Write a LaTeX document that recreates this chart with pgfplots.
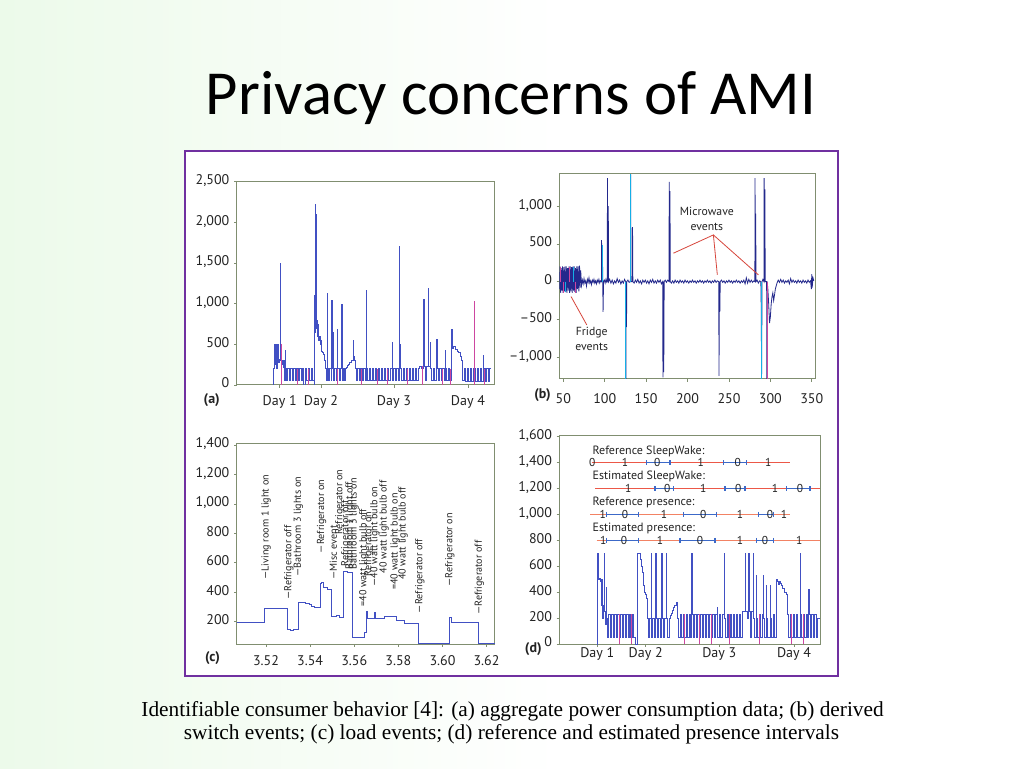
\documentclass[border=0pt]{standalone}
\usepackage{pgfplots}
\pgfplotsset{compat=1.18}
\usepackage{fontspec}
\setmainfont{PT Sans}
\newfontfamily\titlefont{Carlito}
\newfontfamily\capfont{Liberation Serif}
\definecolor{purp}{RGB}{112,48,160}
\definecolor{frm}{RGB}{128,142,112}
\definecolor{ln}{RGB}{65,80,195}
\definecolor{navy}{RGB}{35,40,140}
\definecolor{pinkl}{RGB}{205,70,160}
\definecolor{cyanl}{RGB}{20,175,230}
\definecolor{redl}{RGB}{236,88,72}
\definecolor{orl}{RGB}{242,130,100}
\definecolor{bluel}{RGB}{60,105,200}
\definecolor{annot}{RGB}{215,70,60}
\definecolor{bgg}{RGB}{236,250,234}
\definecolor{txt}{RGB}{35,35,35}
\pgfplotsset{panel/.style={scale only axis, anchor=south west,
  axis line style={frm, line width=0.75pt},
  tick style={frm, line width=0.5pt}, tick align=outside, major tick length=2pt,
  xtick pos=bottom, ytick pos=left, typeset ticklabels with strut,
  ticklabel style={font=\fontsize{10.5}{11}\selectfont, text=txt},
  axis background/.style={fill=white}}}
\newcommand{\cl}[3]{\node[rotate=90, anchor=west, inner sep=0pt, font=\fontsize{7.6}{7.6}\selectfont, text=txt] at (axis cs:#1,#2) {#3};}
\newcommand{\dg}[3]{\node[inner sep=0pt, font=\fontsize{8.6}{9}\selectfont, text=txt] at (axis cs:#1,#2) {#3};}
\begin{document}
\begin{tikzpicture}[x=1pt,y=1pt]
\useasboundingbox (0,0) rectangle (768,576);
\shade[left color=bgg, right color=white] (0,0) rectangle (420,576);
\fill[white] (420,0) rectangle (768,576);
\node[anchor=base, font=\titlefont\fontsize{47}{50}\selectfont, inner sep=0pt] at (383.25,489.75) {Privacy concerns of AMI};
\node[anchor=base, font=\capfont\fontsize{16}{18}\selectfont, inner sep=0pt] at (384.4,39) {Identifiable consumer behavior [4]: (a) aggregate power consumption data; (b) derived};
\node[anchor=base, font=\capfont\fontsize{16}{18}\selectfont, inner sep=0pt] at (383.6,21.75) {switch events; (c) load events; (d) reference and estimated presence intervals};
\draw[purp, line width=1.5pt, fill=white] (138.75,69) rectangle (628.5,462.75);

% ---------------- (a)
\begin{axis}[panel, at={(177.5pt,287.25pt)}, width=193.7pt, height=152.5pt,
  xmin=0, xmax=258.3, ymin=0, ymax=2500,
  xtick={43,84.3,157.3,231.3}, xticklabels={Day 1,Day 2,Day 3,Day 4},
  ytick={0,500,1000,1500,2000,2500}, yticklabels={0,500,{1,000},{1,500},{2,000},{2,500}},
  xticklabel style={yshift=-1.8pt}]
\addplot[const plot, ln, line width=0.5pt] coordinates {
(0,0) (37,200) (37.8,500) (38.4,250) (39,500) (39.6,200) (40.3,300) (41,500) (41.5,280) (42.3,320) (43.2,1500) (43.6,300) (44.5,250) (45.5,300) (46.3,220) (47,300) (47.6,60) (48.2,430) (48.6,200) (49.5,60) (51,200) (52.5,60) (54,200) (55.5,60) (57,200) (58.5,60) (60,200) (61.5,60) (63,200) (64.5,60) (66,200) (67,0) (68.5,200) (70,60) (71.5,200) (73,60) (74.5,200) (76,60) (77.2,0) (77.6,1100) (78.2,650) (78.6,2220) (79,2100) (79.4,900) (79.8,700) (80.3,800) (80.8,600) (81.3,750) (81.8,550) (82.5,600) (83.2,500) (84,550) (85,420) (86,400) (87,380) (88,300) (88.5,200) (89.5,60) (90.2,1130) (90.6,200) (91.5,60) (93,200) (94.5,60) (95,1040) (95.4,200) (96.6,650) (97,60) (98,200) (99.5,60) (100.6,690) (101,200) (102.5,60) (104,200) (105,990) (105.4,60) (106.5,200) (108,60) (109,200) (110,220) (111,240) (112,260) (113,280) (114.5,300) (116.3,550) (116.8,350) (117.5,300) (118.5,200) (119.5,60) (121,200) (122.5,60) (124,200) (125.5,60) (127,200) (128.5,60) (129.3,1160) (129.7,200) (131,60) (132.5,200) (134,60) (135.5,200) (137,60) (138.5,200) (140,60) (141.5,200) (143,60) (144.5,200) (146,60) (147.5,200) (149,60) (150.5,200) (152,60) (153.5,200) (155.3,520) (155.7,60) (157,200) (158.5,60) (160,200) (161.5,60) (162.6,1710) (163,500) (163.5,200) (165,60) (166.5,200) (168,60) (169.5,200) (171,60) (172.5,200) (174,60) (175.5,200) (177,60) (178.5,200) (180,60) (181.5,200) (183,230) (185,200) (187,1050) (187.4,230) (189,60) (190,230) (191.6,1190) (192,230) (193.3,530) (193.7,200) (195,60) (196.5,200) (198,60) (200,560) (200.4,200) (201.5,60) (203,200) (204.5,60) (206,200) (207.5,60) (208.3,430) (208.7,200) (210,60) (211.5,200) (213,60) (215,690) (215.5,450) (217,480) (219,440) (221,420) (222,400) (224,350) (225,300) (226,60) (227.5,200) (229,50) (230.5,200) (232,50) (233.5,200) (235,50) (236.5,200) (237.3,1030) (237.7,200) (239,50) (240.5,200) (242,50) (243.5,200) (245,50) (246.6,370) (247,200) (248.5,50) (250,200) (251.5,50) (253,200) (254.5,200)};
\addplot[ycomb, pinkl, line width=0.5pt] coordinates {(44.8,500) (60.2,200) (72.1,200) (100.2,200) (125.1,200) (140.4,200) (150.2,200) (170.3,200) (185.5,230) (205.3,200) (213.4,200) (237.5,1030) (247.4,200)};
\end{axis}
\node[font=\bfseries\fontsize{10.5}{11}\selectfont, text=txt] at (158.8,276) {(a)};

% ---------------- (b)
\begin{axis}[panel, at={(419.5pt,291.75pt)}, width=191.8pt, height=154.3pt,
  xmin=45.2, xmax=354, ymin=-1290, ymax=1435,
  xtick={50,100,150,200,250,300,350}, xticklabels={50,100,150,200,250,300,350},
  ytick={-1000,-500,0,500,1000}, yticklabels={{\textendash1,000},{\textendash500},0,500,{1,000}},
  xticklabel style={yshift=-5pt}]
\addplot[navy, line width=0.6pt] coordinates {
(45.5,-100) (46,200) (46.8,-150) (47.5,180) (48.3,-120) (49,200) (49.8,-150) (50.5,190) (51.3,-130) (52,200) (52.8,-140) (53.6,200) (54.4,-150) (55.2,180) (56,-120) (56.8,200) (57.6,-150) (58.4,200) (59.2,-130) (60,190) (60.8,-150) (61.6,200) (62.4,-120) (63.2,200) (64,-140) (64.8,180) (65.6,-150) (66.4,200) (67.2,-100) (68,200) (68.8,-130) (69.6,210) (70.4,-80) (71,150) (72,-50) (73,20) (74,-30) (75,40) (76,-20) (77,10) (78,-60) (79,30) (80,-10) (81,50) (82,-20) (83,10) (84,-40) (85,20) (86,-10) (87,30) (88,-20) (89,10) (90,-30) (91,20) (92,-10) (93,30) (94,-20) (95,10) (96,0) (96.2,550) (96.6,0) (97.2,480) (97.6,0) (98,-400) (98.6,0) (99.5,20) (100.5,-20) (101.5,30) (102.5,-10) (103.1,0) (103.3,1370) (103.7,0) (104.3,1000) (104.7,0) (106,30) (107.5,-20) (109,20) (110.5,-30) (112,10) (113.5,-20) (115,40) (116.5,-10) (118,20) (119.5,-30) (121,10) (122.5,-20) (124,30) (125.3,0) (125.6,-1290) (126,0) (126.3,-600) (126.7,0) (128,20) (129.5,-10) (131,0) (131.3,1420) (131.8,0) (133.4,0) (133.6,720) (134,0) (135.5,-20) (137,20) (138.5,-10) (140,30) (141.5,-20) (143,10) (144.5,-30) (146,20) (147.5,-10) (149,20) (150.5,-20) (152,10) (153.5,-30) (155,20) (156.5,-10) (158,30) (159.5,-20) (161,10) (162.5,-20) (164,20) (165.5,-10) (167,20) (168.5,-30) (170,0) (170.3,-1270) (170.8,0) (171.3,-1200) (171.8,0) (173,20) (174.5,-10) (176,20) (177.6,0) (177.9,1320) (178.4,0) (178.8,1200) (179.2,0) (180.5,-20) (182,10) (183.5,-20) (185,20) (186.5,-10) (188,10) (189.5,-20) (191,20) (192.5,-10) (194,10) (195.5,-20) (197,20) (198.5,-10) (200,10) (201.5,-20) (203,10) (204.5,-10) (206,20) (207.5,-10) (209,10) (210.5,-20) (212,10) (213.5,-10) (215,20) (216.5,-10) (218,10) (219.5,-20) (221,10) (222.5,-10) (224,20) (225.5,-10) (227,10) (228.5,-20) (230,10) (231.5,-10) (233,20) (234.5,-10) (236,10) (237.7,0) (238,-1250) (238.5,0) (239,-400) (239.5,0) (241,20) (242.5,-10) (244,10) (245.5,-20) (247,10) (248.5,-10) (250,20) (251.5,-10) (253,10) (254.5,-20) (256,10) (257.5,-10) (259,20) (260.5,-10) (262,10) (263.5,-20) (265,10) (266.5,-10) (268,20) (269.5,-30) (271,50) (272.5,-20) (274,30) (275.5,-10) (277,20) (278.5,-10) (280,10) (281.3,0) (281.5,1370) (282,0) (282.3,900) (282.7,0) (284,20) (285.5,-20) (287,10) (288.5,0) (289,-350) (289.4,-1290) (290,0) (291,30) (292.3,0) (292.5,1370) (293,0) (293.4,1220) (293.8,0) (295.5,0) (295.8,-1290) (296.2,0) (297,-100) (298,-300) (299,-550) (300,-470) (301,-300) (302,-200) (303,-150) (304,-250) (305,-180) (306,-100) (307,-60) (308,-20) (309.5,20) (311,-10) (312.5,30) (314,-10) (315.5,20) (317,-20) (318.5,10) (320,-10) (321.5,20) (323,-30) (324.5,40) (326,-10) (327.5,20) (329,-10) (330.5,10) (332,-20) (333.5,20) (335,-10) (336.5,10) (338,-20) (339.5,20) (341,-10) (342.5,10) (344,-20) (345.5,20) (347,-10) (348.5,10) (349.5,-100) (350,100) (350.5,-80) (351.5,50) (352.5,10)};
\addplot[ycomb, cyanl, line width=0.6pt] coordinates {(125.5,-1290) (131.6,1420) (289.2,-1290) (97.4,480) (47,180) (53,-140) (62,200)};
\addplot[ycomb, pinkl, line width=0.6pt] coordinates {(296,-1290) (46.4,200) (50,-150) (57,200) (65,-150)};
\node[font=\fontsize{8.8}{11}\selectfont, align=center, text=txt] at (axis cs:223.3,826) {Microwave\\events};
\draw[annot, line width=0.6pt] (axis cs:182.9,376) -- (axis cs:231.2,618) -- (axis cs:236,89);
\draw[annot, line width=0.6pt] (axis cs:231.2,618) -- (axis cs:285.6,89);
\node[font=\fontsize{8.8}{11}\selectfont, align=center, text=txt] at (axis cs:84.3,-763) {Fridge\\events};
\draw[annot, line width=0.6pt] (axis cs:59.3,-198) -- (axis cs:78.3,-573);
\end{axis}
\node[font=\bfseries\fontsize{10.5}{11}\selectfont, text=txt] at (406.9,279.75) {(b)};

% ---------------- (c)
\begin{axis}[panel, at={(177.5pt,93pt)}, width=193.7pt, height=150.5pt,
  xmin=6.7, xmax=123.8, ymin=49, ymax=1411,
  xtick={20,40,60,80,100,120}, xticklabels={3.52,3.54,3.56,3.58,3.60,3.62},
  ytick={200,400,600,800,1000,1200,1400}, yticklabels={200,400,600,800,{1,000},{1,200},{1,400}},
  xticklabel style={yshift=-2.7pt}]
\addplot[const plot, ln, line width=0.7pt] coordinates {
(6.7,195) (19.5,290) (29.7,150) (31,140) (32.5,150) (34.6,330) (38,325) (39.5,315) (40.7,305) (42,300) (44.5,460) (45.2,470) (46,430) (48,420) (49.8,235) (52,240) (53.5,230) (55,540) (57,535) (59.1,90) (62,95) (64.5,130) (65.6,270) (66.2,220) (69.4,260) (69.8,220) (73.9,235) (79.2,210) (83,190) (89,50) (103.4,230) (104,195) (116.2,50) (123.8,50)};
\cl{20.0}{483}{\textemdash Living room 1 light on}
\cl{30.4}{347}{\textemdash Refrigerator off}
\cl{34.7}{506}{\textemdash Bathroom 3 lights on}
\cl{45.2}{664}{\textemdash Refrigerator on}
\cl{50.5}{483}{\textemdash Misc event}
\cl{53.5}{789}{Refrigerator on}
\cl{56.2}{574}{Refrigerator off}
\cl{58.1}{551}{Bathroom 1 light off}
\cl{60.0}{551}{Bathroom 3 lights on}
\cl{64.4}{302}{=40 watt light bulb off}
\cl{66.6}{505}{Refrigerator on}
\cl{69.4}{438}{\textemdash 40 watt light bulb on}
\cl{73.5}{528}{40 watt light bulb off}
\cl{78.5}{415}{=40 watt light bulb on}
\cl{82.2}{483}{40 watt light bulb off}
\cl{89.8}{257}{\textemdash Refrigerator off}
\cl{103.4}{438}{\textemdash Refrigerator on}
\cl{116.7}{245}{\textemdash Refrigerator off}
\end{axis}
\node[font=\bfseries\fontsize{10.5}{11}\selectfont, text=txt] at (159.4,82.3) {(c)};

% ---------------- (d)
\begin{axis}[panel, at={(419.5pt,93pt)}, width=195.5pt, height=156.2pt,
  xmin=0, xmax=260.7, ymin=0, ymax=1607,
  xtick={38,86.4,160,234.7}, xticklabels={Day 1,Day 2,Day 3,Day 4},
  ytick={0,200,400,600,800,1000,1200,1400,1600}, yticklabels={0,200,400,600,800,{1,000},{1,200},{1,400},{1,600}},
  xticklabel style={yshift=3pt}]
\addplot[const plot, ln, line width=0.5pt] coordinates {
(37.8,0) (38,700) (38.5,500) (39.5,510) (40.5,480) (41.5,500) (42,300) (42.5,500) (43,200) (44,300) (45,700) (45.4,250) (46,150) (46.6,440) (47,200) (47.5,50) (49,230) (50.5,50) (52,230) (53.5,50) (55,230) (56.5,50) (58,230) (59.5,50) (61,230) (62.5,50) (64,230) (65.5,50) (67,230) (68.5,50) (70,230) (71.5,50) (73,230) (74.5,50) (75.7,0) (77.7,700) (81,650) (82,600) (83,550) (84,450) (85,400) (86,380) (87,350) (88,200) (89,50) (90.5,200) (91.7,700) (92.1,50) (93.5,200) (95,50) (96.4,700) (96.8,200) (98,50) (99.5,200) (101,50) (102.4,700) (102.8,200) (104,50) (105.5,200) (106.7,700) (107.1,200) (108.5,50) (110,200) (111,220) (112,240) (113,260) (114,280) (115.5,300) (117,320) (118.5,200) (119.5,50) (121,230) (122.5,50) (124,230) (125.5,50) (127,230) (128.5,50) (130,230) (131.5,50) (132.4,700) (132.8,230) (134,50) (135.5,230) (137,50) (138.5,230) (140,50) (141.5,230) (143,50) (144.5,230) (146,50) (147.5,230) (149,50) (150.5,230) (152,50) (153.5,230) (155,50) (156.5,230) (158,280) (158.5,50) (160,230) (161.5,50) (163,230) (165,700) (165.4,200) (166.5,50) (168,230) (169.5,50) (171,230) (172.5,50) (174,230) (175.5,50) (177,230) (178.5,50) (180,230) (181.5,50) (183,250) (186,700) (186.4,250) (188,200) (189.4,700) (189.8,250) (191,50) (192.5,250) (194,700) (194.4,200) (195.5,50) (196.7,530) (197.1,200) (198.5,50) (200,230) (201.5,50) (203,230) (204,530) (204.4,200) (205.5,50) (207,450) (207.4,200) (208.5,50) (210.7,450) (211.1,200) (212.5,50) (214,230) (215.5,50) (217,500) (218,480) (219,460) (220,480) (221,470) (222,450) (223,430) (225,400) (227,380) (228,230) (229.5,50) (231,230) (232.5,50) (234,230) (235.5,50) (237,230) (238.5,50) (240.7,700) (241.1,230) (242.5,50) (244,230) (245.5,50) (247,230) (248.5,50) (249.4,420) (249.8,230) (251,50) (252.5,230) (254,50) (255.5,230) (257,50) (258.5,200) (260.5,200)};
\addplot[ycomb, pinkl, line width=0.5pt] coordinates {(60.2,230) (72.2,230) (125.3,230) (140.2,230) (152.3,230) (170.4,230) (200.3,230) (232.3,230) (244.4,230)};
% state lines
\addplot[redl, line width=0.9pt] coordinates {(32.4,1400) (230.7,1400)};
\addplot[bluel, line width=0.9pt, mark=|, mark size=1.8pt] coordinates {(87.4,1400) (110.7,1400)};
\addplot[bluel, line width=0.9pt, mark=|, mark size=1.8pt] coordinates {(164,1400) (187.4,1400)};
\addplot[redl, line width=0.9pt] coordinates {(35.7,1200) (260.7,1200)};
\addplot[bluel, line width=0.9pt, mark=|, mark size=1.8pt] coordinates {(95.7,1200) (114,1200)};
\addplot[bluel, line width=0.9pt, mark=|, mark size=1.8pt] coordinates {(165.7,1200) (185.7,1200)};
\addplot[bluel, line width=0.9pt, mark=|, mark size=1.8pt] coordinates {(227.4,1200) (250.7,1200)};
\addplot[orl, line width=0.9pt] coordinates {(30.7,1000) (230.7,1000)};
\addplot[bluel, line width=0.9pt, mark=|, mark size=1.8pt] coordinates {(47.4,1000) (79,1000)};
\addplot[bluel, line width=0.9pt, mark=|, mark size=1.8pt] coordinates {(124,1000) (157.4,1000)};
\addplot[bluel, line width=0.9pt, mark=|, mark size=1.8pt] coordinates {(199,1000) (214,1000)};
\addplot[orl, line width=0.9pt] coordinates {(37.4,800) (260.7,800)};
\addplot[bluel, line width=0.9pt, mark=|, mark size=1.8pt] coordinates {(47.4,800) (79,800)};
\addplot[bluel, line width=0.9pt, mark=|, mark size=1.8pt] coordinates {(120.7,800) (155.7,800)};
\addplot[bluel, line width=0.9pt, mark=|, mark size=1.8pt] coordinates {(197.4,800) (214,800)};
\node[anchor=west, inner sep=0pt, font=\fontsize{9}{9}\selectfont, text=txt] at (axis cs:33,1484) {Reference SleepWake:};
\node[anchor=west, inner sep=0pt, font=\fontsize{9}{9}\selectfont, text=txt] at (axis cs:33,1291) {Estimated SleepWake:};
\node[anchor=west, inner sep=0pt, font=\fontsize{9}{9}\selectfont, text=txt] at (axis cs:33,1090) {Reference presence:};
\node[anchor=west, inner sep=0pt, font=\fontsize{9}{9}\selectfont, text=txt] at (axis cs:33,892) {Estimated presence:};
\dg{33}{1400}{0}\dg{65.7}{1400}{1}\dg{98}{1400}{0}\dg{141.4}{1400}{1}\dg{178.4}{1400}{0}\dg{209}{1400}{1}
\dg{69}{1200}{1}\dg{108}{1200}{0}\dg{144}{1200}{1}\dg{179}{1200}{0}\dg{215.7}{1200}{1}\dg{240.7}{1200}{0}
\dg{43.4}{1000}{1}\dg{65.7}{1000}{0}\dg{104.7}{1000}{1}\dg{144}{1000}{0}\dg{180.7}{1000}{1}\dg{210.7}{1000}{0}\dg{224.7}{1000}{1}
\dg{44}{800}{1}\dg{64.7}{800}{0}\dg{100.7}{800}{1}\dg{140.7}{800}{0}\dg{180.7}{800}{1}\dg{205.7}{800}{0}\dg{240}{800}{1}
\end{axis}
\node[font=\bfseries\fontsize{10.5}{11}\selectfont, text=txt] at (400,89) {(d)};
\end{tikzpicture}
\end{document}
